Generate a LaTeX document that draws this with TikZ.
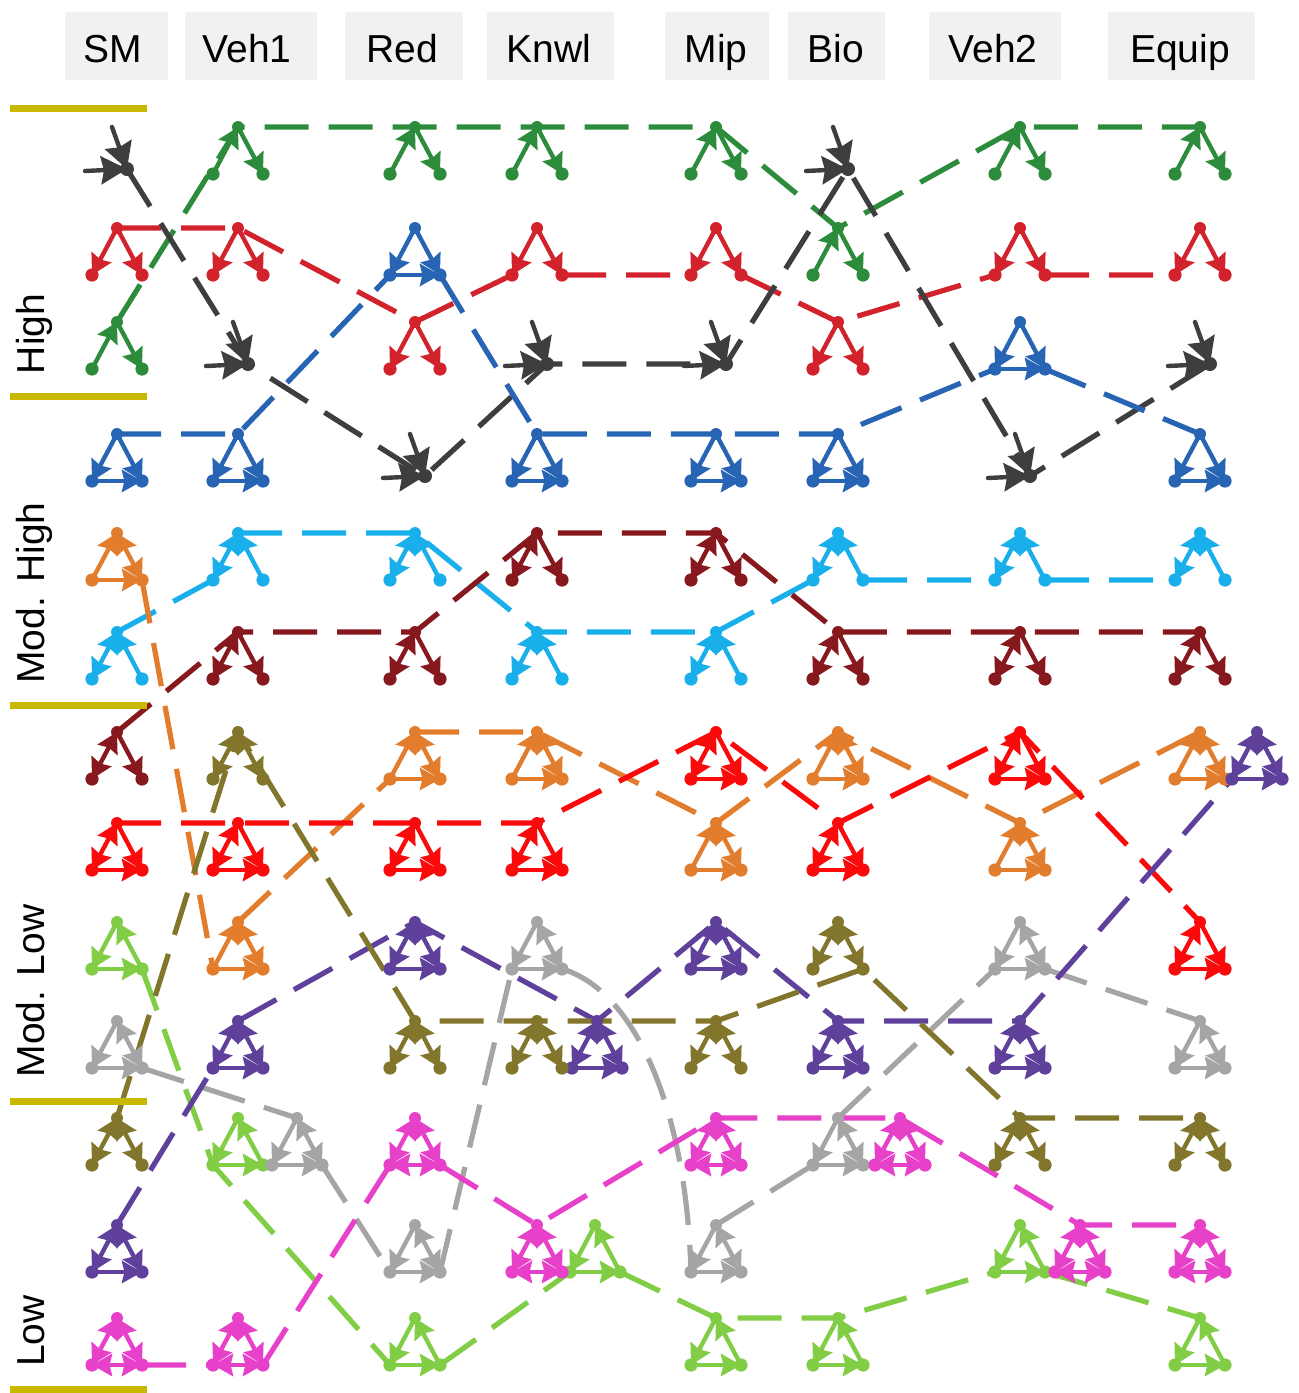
\documentclass[tikz,border=0pt]{standalone}
\usepackage{fontspec}
\setmainfont{Liberation Sans}
\usetikzlibrary{arrows.meta}
\pgfdeclarelayer{bg}
\pgfsetlayers{bg,main}
\definecolor{cGreen}{RGB}{44,140,60}
\definecolor{cRed}{RGB}{210,35,45}
\definecolor{cDark}{RGB}{62,62,64}
\definecolor{cBlue}{RGB}{40,100,180}
\definecolor{cLBlue}{RGB}{25,175,235}
\definecolor{cMaroon}{RGB}{135,25,30}
\definecolor{cOrange}{RGB}{225,125,45}
\definecolor{cBRed}{RGB}{250,10,10}
\definecolor{cLGreen}{RGB}{130,205,70}
\definecolor{cGray}{RGB}{165,165,165}
\definecolor{cPurple}{RGB}{95,65,155}
\definecolor{cOlive}{RGB}{130,118,45}
\definecolor{cMag}{RGB}{230,65,200}
\definecolor{cBar}{RGB}{200,185,0}
\definecolor{cBox}{RGB}{241,241,241}
\newcommand\GlPts{\coordinate (-t) at (0,0); \coordinate (-l) at (-25,47); \coordinate (-r) at (25,47);}
\newcommand\GlDots{\fill (0,0) circle (3pt) (-25,47) circle (3.3pt) (25,47) circle (3.3pt);}
\tikzset{
  gl/.style={line width=2.2pt, line cap=round, line join=round, >={Stealth[length=10pt,width=11pt,inset=1.2pt]}},
  bigtip/.style={>={Stealth[length=13pt,width=14pt,inset=1.5pt]}},
  conn/.style={line width=2.6pt, dash pattern=on 22pt off 10pt},
  hdr/.style={font=\fontsize{19.5}{23}\selectfont, anchor=base, inner sep=0pt},
  side/.style={font=\fontsize{19.5}{23}\selectfont, anchor=base, rotate=90, inner sep=0pt},
  bar/.style={cBar, line width=3.5pt},
  chainG/.pic={\GlPts \draw[gl,->] (-25,47) -- (0,0); \draw[gl,->] (0,0) -- (25,47); \GlDots},
  outS/.pic={\GlPts \draw[gl,->] (0,0) -- (-25,47); \draw[gl,->] (0,0) -- (25,47); \GlDots},
  inS/.pic={\coordinate (-t) at (-5,0); \coordinate (-l) at (-32,44); \coordinate (-h) at (10,42);
     \draw[gl,bigtip,->] (-5,0) -- (10,42); \draw[gl,bigtip,->] (-32,44) -- (10,42); \fill (10,42) circle (3.5pt);},
  triB/.pic={\GlPts \draw[gl,->] (0,0) -- (-25,47); \draw[gl,->] (0,0) -- (25,47); \draw[gl,->] (-25,47) -- (25,47); \GlDots},
  lbG/.pic={\GlPts \draw[gl,<->] (-25,47) -- (0,0); \draw[gl,->] (25,47) -- (0,0); \GlDots},
  marG/.pic={\GlPts \draw[gl,<->] (-25,47) -- (0,0); \draw[gl,->] (0,0) -- (25,47); \GlDots},
  orG/.pic={\GlPts \draw[gl,->] (-25,47) -- (0,0); \draw[gl,<->] (0,0) -- (25,47); \draw[gl,->] (-25,47) -- (25,47); \GlDots},
  brG/.pic={\GlPts \draw[gl,<->] (-25,47) -- (0,0); \draw[gl,->] (0,0) -- (25,47); \draw[gl,->] (-25,47) -- (25,47); \GlDots},
  cycG/.pic={\GlPts \draw[gl,->] (0,0) -- (-25,47); \draw[gl,->] (-25,47) -- (25,47); \draw[gl,->] (25,47) -- (0,0); \GlDots},
  gyG/.pic={\GlPts \draw[gl,->] (0,0) -- (-25,47); \draw[gl,<->] (25,47) -- (0,0); \draw[gl,->] (-25,47) -- (25,47); \GlDots},
  puG/.pic={\GlPts \draw[gl,<->] (0,0) -- (-25,47); \draw[gl,<->] (0,0) -- (25,47); \draw[gl,->] (-25,47) -- (25,47); \GlDots},
  olG/.pic={\GlPts \draw[gl,<->] (0,0) -- (-25,47); \draw[gl,<->] (0,0) -- (25,47); \GlDots},
  mgG/.pic={\GlPts \draw[gl,<->] (0,0) -- (-25,47); \draw[gl,<->] (0,0) -- (25,47); \draw[gl,<->] (-25,47) -- (25,47); \GlDots},
}
\begin{document}
\begin{tikzpicture}[x=0.5pt,y=-0.5pt]
\useasboundingbox (0,0) rectangle (1299,1393);
% headers
\fill[cBox] (65,12) rectangle (168,80);
\fill[cBox] (185,12) rectangle (317,80);
\fill[cBox] (345,12) rectangle (463,80);
\fill[cBox] (487,12) rectangle (614,80);
\fill[cBox] (665,12) rectangle (769,80);
\fill[cBox] (788,12) rectangle (885,80);
\fill[cBox] (929,12) rectangle (1061,80);
\fill[cBox] (1108,12) rectangle (1255,80);
\node[hdr] (hSM) at (113,62) {SM};
\node[hdr] (hV1) at (247,62) {Veh1};
\node[hdr] (hRd) at (402,62) {Red};
\node[hdr] (hKn) at (549,62) {Knwl};
\node[hdr] (hMi) at (716,62) {Mip};
\node[hdr] (hBi) at (836,62) {Bio};
\node[hdr] (hV2) at (993,62) {Veh2};
\node[hdr] (hEq) at (1180,62) {Equip};
% side bars and labels
\foreach \yy in {108,396,705,1101,1389} \draw[bar] (10,\yy) -- (147,\yy);
\node[side] (sH) at (44,334) {High};
\node[side] (sMH) at (44,593) {Mod. High};
\node[side] (sML) at (44,991) {Mod. Low};
\node[side] (sL) at (44,1331) {Low};
% glyphs
\pic[color=cGreen] (gr1) at (117,322) {chainG};
\pic[color=cGreen] (gr2) at (238,127) {chainG};
\pic[color=cGreen] (gr3) at (415,127) {chainG};
\pic[color=cGreen] (gr4) at (537,127) {chainG};
\pic[color=cGreen] (gr5) at (716,127) {chainG};
\pic[color=cGreen] (gr6) at (838,228) {chainG};
\pic[color=cGreen] (gr7) at (1020,127) {chainG};
\pic[color=cGreen] (gr8) at (1200,127) {chainG};
\pic[color=cRed] (rd1) at (117,228) {outS};
\pic[color=cRed] (rd2) at (238,228) {outS};
\pic[color=cRed] (rd3) at (415,322) {outS};
\pic[color=cRed] (rd4) at (537,228) {outS};
\pic[color=cRed] (rd5) at (716,228) {outS};
\pic[color=cRed] (rd6) at (838,322) {outS};
\pic[color=cRed] (rd7) at (1020,228) {outS};
\pic[color=cRed] (rd8) at (1200,228) {outS};
\pic[color=cDark] (dk1) at (117,127) {inS};
\pic[color=cDark] (dk2) at (238,322) {inS};
\pic[color=cDark] (dk3) at (415,434) {inS};
\pic[color=cDark] (dk4) at (537,322) {inS};
\pic[color=cDark] (dk5) at (716,322) {inS};
\pic[color=cDark] (dk6) at (838,127) {inS};
\pic[color=cDark] (dk7) at (1020,434) {inS};
\pic[color=cDark] (dk8) at (1200,322) {inS};
\pic[color=cBlue] (bl1) at (117,434) {triB};
\pic[color=cBlue] (bl2) at (238,434) {triB};
\pic[color=cBlue] (bl3) at (415,228) {triB};
\pic[color=cBlue] (bl4) at (537,434) {triB};
\pic[color=cBlue] (bl5) at (716,434) {triB};
\pic[color=cBlue] (bl6) at (838,434) {triB};
\pic[color=cBlue] (bl7) at (1020,322) {triB};
\pic[color=cBlue] (bl8) at (1200,434) {triB};
\pic[color=cLBlue] (lb1) at (117,632) {lbG};
\pic[color=cLBlue] (lb2) at (238,533) {lbG};
\pic[color=cLBlue] (lb3) at (415,533) {lbG};
\pic[color=cLBlue] (lb4) at (537,632) {lbG};
\pic[color=cLBlue] (lb5) at (716,632) {lbG};
\pic[color=cLBlue] (lb6) at (838,533) {lbG};
\pic[color=cLBlue] (lb7) at (1020,533) {lbG};
\pic[color=cLBlue] (lb8) at (1200,533) {lbG};
\pic[color=cMaroon] (mr1) at (117,732) {marG};
\pic[color=cMaroon] (mr2) at (238,632) {marG};
\pic[color=cMaroon] (mr3) at (415,632) {marG};
\pic[color=cMaroon] (mr4) at (537,533) {marG};
\pic[color=cMaroon] (mr5) at (716,533) {marG};
\pic[color=cMaroon] (mr6) at (838,632) {marG};
\pic[color=cMaroon] (mr7) at (1020,632) {marG};
\pic[color=cMaroon] (mr8) at (1200,632) {marG};
\pic[color=cOrange] (or1) at (117,533) {orG};
\pic[color=cOrange] (or2) at (238,922) {orG};
\pic[color=cOrange] (or3) at (415,732) {orG};
\pic[color=cOrange] (or4) at (537,732) {orG};
\pic[color=cOrange] (or5) at (716,823) {orG};
\pic[color=cOrange] (or6) at (838,732) {orG};
\pic[color=cOrange] (or7) at (1020,823) {orG};
\pic[color=cOrange] (or8) at (1200,732) {orG};
\pic[color=cBRed] (br1) at (117,823) {brG};
\pic[color=cBRed] (br2) at (238,823) {brG};
\pic[color=cBRed] (br3) at (415,823) {brG};
\pic[color=cBRed] (br4) at (537,823) {brG};
\pic[color=cBRed] (br5) at (716,732) {brG};
\pic[color=cBRed] (br6) at (838,823) {brG};
\pic[color=cBRed] (br7) at (1020,732) {brG};
\pic[color=cBRed] (br8) at (1200,922) {brG};
\pic[color=cLGreen] (lg1) at (117,922) {cycG};
\pic[color=cLGreen] (lg2) at (238,1118) {cycG};
\pic[color=cLGreen] (lg3) at (415,1318) {cycG};
\pic[color=cLGreen] (lg4) at (595,1225) {cycG};
\pic[color=cLGreen] (lg5) at (716,1318) {cycG};
\pic[color=cLGreen] (lg6) at (838,1318) {cycG};
\pic[color=cLGreen] (lg7) at (1020,1225) {cycG};
\pic[color=cLGreen] (lg8) at (1200,1318) {cycG};
\pic[color=cGray] (gy1) at (117,1021) {gyG};
\pic[color=cGray] (gy2) at (297,1118) {gyG};
\pic[color=cGray] (gy3) at (415,1225) {gyG};
\pic[color=cGray] (gy4) at (537,922) {gyG};
\pic[color=cGray] (gy5) at (716,1225) {gyG};
\pic[color=cGray] (gy6) at (838,1118) {gyG};
\pic[color=cGray] (gy7) at (1020,922) {gyG};
\pic[color=cGray] (gy8) at (1200,1021) {gyG};
\pic[color=cPurple] (pu1) at (117,1225) {puG};
\pic[color=cPurple] (pu2) at (238,1021) {puG};
\pic[color=cPurple] (pu3) at (415,922) {puG};
\pic[color=cPurple] (pu4) at (597,1021) {puG};
\pic[color=cPurple] (pu5) at (716,922) {puG};
\pic[color=cPurple] (pu6) at (838,1021) {puG};
\pic[color=cPurple] (pu7) at (1020,1021) {puG};
\pic[color=cPurple] (pu8) at (1257,732) {puG};
\pic[color=cOlive] (ol1) at (117,1118) {olG};
\pic[color=cOlive] (ol2) at (238,732) {olG};
\pic[color=cOlive] (ol3) at (415,1021) {olG};
\pic[color=cOlive] (ol4) at (537,1021) {olG};
\pic[color=cOlive] (ol5) at (716,1021) {olG};
\pic[color=cOlive] (ol6) at (838,922) {olG};
\pic[color=cOlive] (ol7) at (1020,1118) {olG};
\pic[color=cOlive] (ol8) at (1200,1118) {olG};
\pic[color=cMag] (mg1) at (117,1318) {mgG};
\pic[color=cMag] (mg2) at (238,1318) {mgG};
\pic[color=cMag] (mg3) at (415,1118) {mgG};
\pic[color=cMag] (mg4) at (537,1225) {mgG};
\pic[color=cMag] (mg5) at (716,1118) {mgG};
\pic[color=cMag] (mg6) at (900,1118) {mgG};
\pic[color=cMag] (mg7) at (1080,1225) {mgG};
\pic[color=cMag] (mg8) at (1200,1225) {mgG};
% connectors
\begin{pgfonlayer}{bg}
\draw[conn,cGreen] (gr1-t) -- (gr2-t) -- (gr3-t) -- (gr4-t) -- (gr5-t) -- (gr6-t) -- (gr7-t) -- (gr8-t);
\draw[conn,cRed] (rd1-t) -- (rd2-t) -- (rd3-t) -- (rd4-l) (rd4-r) -- (rd5-l) (rd5-r) -- (rd6-t) -- (rd7-l) (rd7-r) -- (rd8-l);
\draw[conn,cDark] (dk1-h) -- (dk2-h) -- (dk3-h) -- (dk4-h) -- (dk5-h) -- (dk6-h) -- (dk7-h) -- (dk8-h);
\draw[conn,cBlue] (bl1-t) -- (bl2-t) -- (bl3-l) (bl3-r) -- (bl4-t) -- (bl5-t) -- (bl6-t) -- (bl7-l) (bl7-r) -- (bl8-t);
\draw[conn,cLBlue] (lb1-t) -- (lb2-l) (lb2-t) -- (lb3-t) -- (lb4-t) -- (lb5-t) -- (lb6-l) (lb6-r) -- (lb7-l) (lb7-r) -- (lb8-l);
\draw[conn,cMaroon] (mr1-t) -- (mr2-t) -- (mr3-t) -- (mr4-t) -- (mr5-t) -- (mr6-t) -- (mr7-t) -- (mr8-t);
\draw[conn,cOrange] (or1-r) -- (or2-l) (or2-t) -- (or3-l) (or3-t) -- (or4-t) -- (or5-t) -- (or6-t) -- (or7-t) -- (or8-t);
\draw[conn,cBRed] (br1-t) -- (br2-t) -- (br3-t) -- (br4-t) -- (br5-t) -- (br6-t) -- (br7-t) -- (br8-t);
\draw[conn,cLGreen] (lg1-r) -- (lg2-l) -- (lg3-l) (lg3-r) -- (lg4-l) (lg4-r) -- (lg5-t) -- (lg6-t) -- (lg7-l) (lg7-r) -- (lg8-t);
\draw[conn,cGray] (gy1-r) -- (gy2-t) (gy2-r) -- (gy3-l) (gy3-r) -- (gy4-l) (gy4-r) .. controls +(70,20) and +(-5,-170) .. (gy5-l) (gy5-t) -- (gy6-l) (gy6-t) -- (gy7-l) (gy7-r) -- (gy8-t);
\draw[conn,cPurple] (pu1-t) -- (pu2-l) (pu2-t) -- (pu3-t) -- (pu4-t) -- (pu5-t) -- (pu6-t) -- (pu7-t) -- (pu8-l);
\draw[conn,cOlive] (ol1-t) -- (ol2-t) -- (ol3-t) -- (ol4-t) -- (ol5-t) -- (ol6-r) -- (ol7-t) -- (ol8-t);
\draw[conn,cMag] (mg1-r) -- (mg2-l) (mg2-r) -- (mg3-l) (mg3-r) -- (mg4-t) -- (mg5-t) -- (mg6-t) -- (mg7-t) -- (mg8-t);
\end{pgfonlayer}
\end{tikzpicture}
\end{document}
